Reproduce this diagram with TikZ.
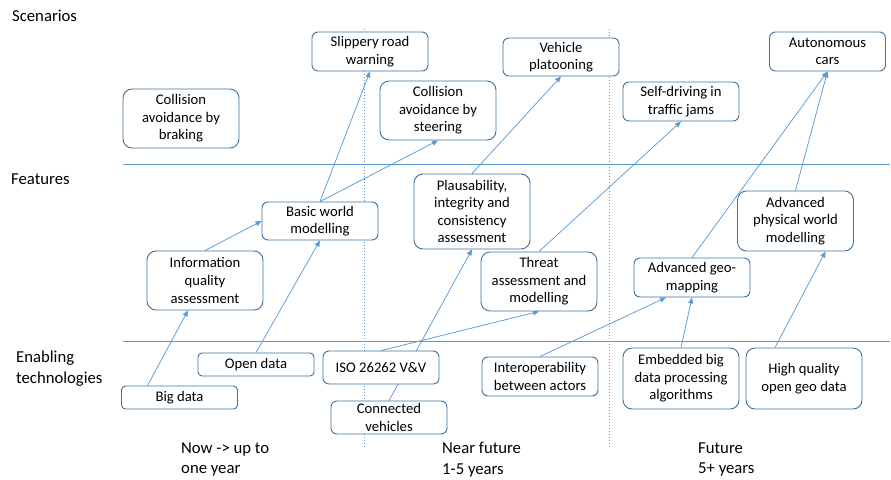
\documentclass[tikz,border=0pt]{standalone}
\usepackage{fontspec}
\setmainfont{Carlito}
\usetikzlibrary{arrows.meta,backgrounds}
\definecolor{linkblue}{HTML}{5B9BD5}
\definecolor{boxblue}{HTML}{41719C}

\begin{document}
\begin{tikzpicture}[x=1pt,y=-1pt,->,>={Triangle[length=6pt,width=5pt]},
  every edge/.style={draw=linkblue,line width=0.75pt},
  tbox/.style={draw=boxblue,fill=white,line width=0.9pt,rounded corners=6pt,align=center,
    minimum width=116pt,inner sep=1pt,font=\fontsize{14.67}{17.6}\selectfont},
  bigbox/.style={tbox,rounded corners=9pt},
  lowbox/.style={tbox,rounded corners=4pt},
  rowlabel/.style={anchor=west,align=left,inner sep=0pt,font=\fontsize{16.7}{20.5}\selectfont},
  divider/.style={-,draw=linkblue,line width=0.8pt}]

\useasboundingbox (0,0) rectangle (891,479);

% row and column labels
\node[rowlabel](scen) at (12,16){Scenarios};
\node[rowlabel](feat) at (11,179){Features};
\node[rowlabel](tech) at (16,368.5){Enabling\\technologies};
\node[rowlabel](now) at (181,459.5){Now -> up to\\one year};
\node[rowlabel](near) at (442,459.5){Near future\\1-5 years};
\node[rowlabel](far) at (698,459.5){Future\\5+ years};

% scenarios
\node[tbox,minimum height=39pt](slip) at (370,51.5){Slippery road\\warning};
\node[bigbox,minimum height=59pt](brake) at (181,118.5){Collision\\avoidance by\\braking};
\node[bigbox,minimum height=59pt](steer) at (438,110.5){Collision\\avoidance by\\steering};
\node[tbox,minimum height=38pt](platoon) at (561,57){Vehicle\\platooning};
\node[tbox,minimum height=39pt](jams) at (681,101.5){Self-driving in\\traffic jams};
\node[tbox,minimum height=39pt](auto) at (827.5,51.5){Autonomous\\cars};

% features
\node[tbox,minimum height=38pt](basic) at (320,221){Basic world\\modelling};
\node[bigbox,minimum height=75pt](plaus) at (472,211.5){Plausability,\\integrity and\\consistency\\assessment};
\node[bigbox,minimum height=60pt](phys) at (795.5,221){Advanced\\physical world\\modelling};
\node[bigbox,minimum height=59pt](info) at (205,280.5){Information\\quality\\assessment};
\node[bigbox,minimum height=59pt](threat) at (539,281.5){Threat\\assessment and\\modelling};
\node[tbox,minimum height=39pt](geo) at (692,277.5){Advanced geo-\\mapping};

% enabling technologies
\node[lowbox,minimum height=23pt](open) at (256,364.5){Open data};
\node[lowbox,minimum height=23pt](big) at (179.5,397.5){Big data};
\node[tbox,minimum height=33pt](iso) at (381,367.5){ISO 26262 V\&V};
\node[tbox,minimum height=33pt](conn) at (389,417.5){Connected\\vehicles};
\node[tbox,minimum height=39pt](interop) at (540,376.5){Interoperability\\between actors};
\node[bigbox,minimum height=61pt](embed) at (681,378.5){Embedded big\\data processing\\algorithms};
\node[bigbox,minimum height=61pt](hq) at (804,378.5){High quality\\open geo data};

\begin{scope}[on background layer]
\draw[divider](123,164)--(890,164);
\draw[divider](123,341)--(890,341);
\draw[divider,line width=1pt,dash pattern=on 1pt off 2pt](364,29)--(364,447);
\draw[divider,line width=1pt,dash pattern=on 1pt off 2pt](609,29)--(609,447);

\path([xshift=-32pt]big.north)edge([xshift=-17pt]info.south)
	(info.north)edge(basic.west)
	(open.north)edge(basic.south)
	(basic.north)edge(slip.south)
	(basic.north)edge(steer.south)
	(plaus.north)edge(platoon.south)
	(conn.north)edge(plaus.south)
	(iso.north)edge(threat.south)
	(threat.north)edge(jams.south)
	(interop.north)edge([xshift=-26pt]geo.south)
	(embed.north)edge(geo.south)
	(geo.north)edge(auto.south)
	(phys.north)edge(auto.south)
	([xshift=-29pt]hq.north)edge([xshift=30pt]phys.south);
\end{scope}

\end{tikzpicture}
\end{document}
